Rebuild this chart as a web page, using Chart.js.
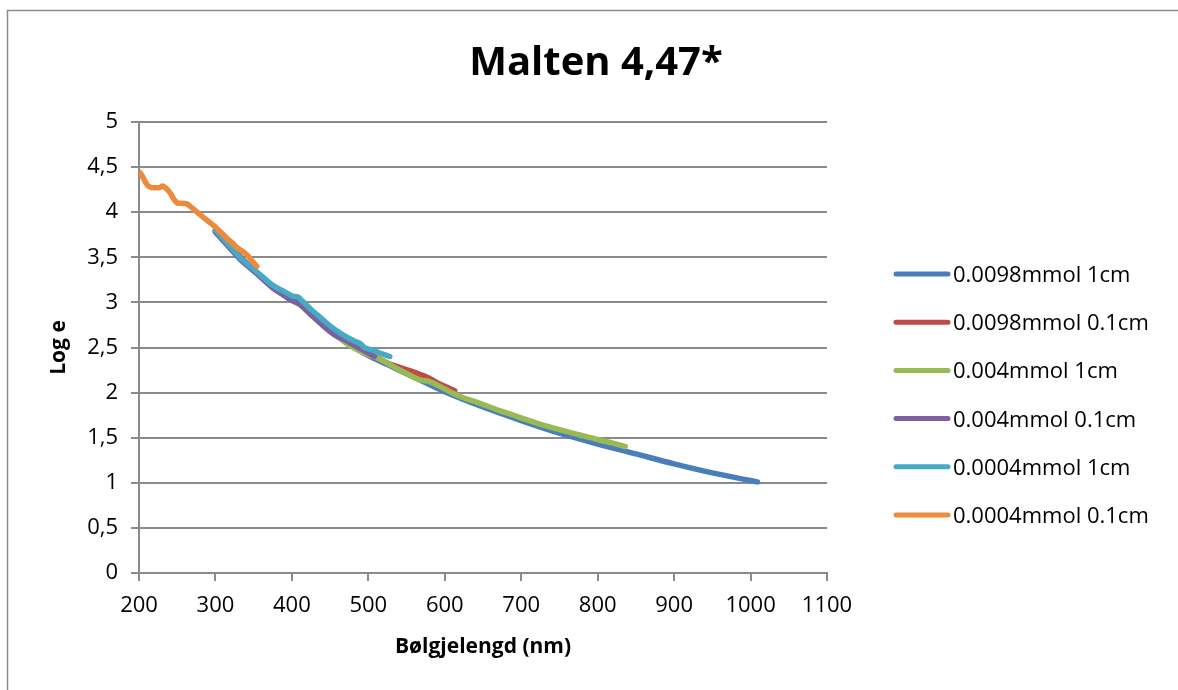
<!DOCTYPE html>
<html>
<head>
<meta charset="utf-8">
<style>
  html, body { margin: 0; padding: 0; background: #fff; }
  #wrap { width: 1178px; height: 690px; }
</style>
<script src="https://cdn.jsdelivr.net/npm/chart.js@4.4.0/dist/chart.umd.min.js"></script>
</head>
<body>
<div id="wrap"><canvas id="c" width="1178" height="690"></canvas></div>
<script>
// ---- chart text ----
const chartTitle = 'Malten 4,47*';
const xAxisTitle = 'Bølgjelengd (nm)';
const yAxisTitle = 'Log e';

// ---- tick labels ----
const xTickValues = [200, 300, 400, 500, 600, 700, 800, 900, 1000, 1100];
const xTickLabels = ['200', '300', '400', '500', '600', '700', '800', '900', '1000', '1100'];
const yTickValues = [0, 0.5, 1, 1.5, 2, 2.5, 3, 3.5, 4, 4.5, 5];
const yTickLabels = ['0', '0,5', '1', '1,5', '2', '2,5', '3', '3,5', '4', '4,5', '5'];

// ---- series names ----
const seriesNames = ['0.0098mmol 1cm', '0.0098mmol 0.1cm', '0.004mmol 1cm', '0.004mmol 0.1cm', '0.0004mmol 1cm', '0.0004mmol 0.1cm'];
const seriesColors = ['#4A7EBB', '#BE4B48', '#98B954', '#7D60A0', '#46AAC5', '#EE8A3C'];

// ---- series values (wavelength nm, log e) ----
const s1x = [300, 325, 350, 375, 400, 410, 425, 450, 475, 500, 525, 550, 575, 600, 650, 700, 750, 800, 850, 900, 950, 1000, 1009];
const s1y = [3.79, 3.56, 3.35, 3.17, 3.02, 2.98, 2.86, 2.69, 2.54, 2.41, 2.31, 2.21, 2.11, 2.01, 1.84, 1.69, 1.55, 1.43, 1.32, 1.21, 1.11, 1.025, 1.01];

const s2x = [300, 325, 350, 375, 400, 410, 425, 450, 475, 500, 515, 530, 541, 555, 568, 577, 590, 600, 613];
const s2y = [3.80, 3.57, 3.36, 3.18, 3.03, 2.99, 2.87, 2.70, 2.56, 2.44, 2.37, 2.31, 2.28, 2.24, 2.20, 2.17, 2.11, 2.07, 2.02];

const s3x = [430, 450, 476, 500, 515, 541, 555, 568, 581, 600, 616, 646, 672, 700, 721, 750, 777, 800, 820, 836];
const s3y = [2.82, 2.69, 2.52, 2.42, 2.37, 2.25, 2.19, 2.14, 2.12, 2.04, 1.97, 1.88, 1.80, 1.72, 1.66, 1.59, 1.53, 1.48, 1.44, 1.40];

const s4x = [300, 316, 332, 354, 375, 390, 400, 410, 424, 441, 456, 472, 493, 508];
const s4y = [3.78, 3.63, 3.48, 3.32, 3.16, 3.08, 3.03, 3.00, 2.88, 2.74, 2.64, 2.57, 2.47, 2.40];

const s5x = [300, 316, 332, 354, 375, 390, 401, 408, 413, 424, 439, 450, 463, 475, 485, 490, 495, 506, 518, 528];
const s5y = [3.80, 3.65, 3.50, 3.34, 3.19, 3.12, 3.07, 3.06, 3.02, 2.93, 2.82, 2.74, 2.66, 2.60, 2.56, 2.54, 2.50, 2.47, 2.43, 2.40];

const s6x = [201, 205, 210, 214, 220, 226, 231, 236, 241, 246, 251, 257, 263, 269, 276, 289, 302, 315, 322, 328, 335, 341, 348, 354];
const s6y = [4.44, 4.39, 4.31, 4.28, 4.27, 4.27, 4.29, 4.26, 4.21, 4.14, 4.10, 4.10, 4.09, 4.05, 4.00, 3.91, 3.82, 3.71, 3.66, 3.61, 3.57, 3.53, 3.46, 3.40];

const seriesX = [s1x, s2x, s3x, s4x, s5x, s6x];
const seriesY = [s1y, s2y, s3y, s4y, s5y, s6y];

const FONT = "'Open Sans', 'Noto Sans', sans-serif";
const GRID = '#8A8A8A';

const datasets = seriesNames.map((name, i) => ({
  label: name,
  data: seriesX[i].map((x, k) => ({ x: x, y: seriesY[i][k] })),
  borderColor: seriesColors[i],
  backgroundColor: seriesColors[i],
  borderWidth: 5.5,
  borderCapStyle: 'round',
  borderJoinStyle: 'round',
  pointRadius: 0,
  pointHoverRadius: 0,
  cubicInterpolationMode: 'monotone',
  fill: false,
  order: seriesNames.length - i
}));

const decor = {
  id: 'decor',
  beforeDraw(chart) {
    const ctx = chart.ctx;
    ctx.save();
    ctx.fillStyle = '#ffffff';
    ctx.fillRect(0, 0, chart.width, chart.height);
    ctx.strokeStyle = '#8C8C8C';
    ctx.lineWidth = 1.5;
    ctx.beginPath();
    ctx.moveTo(7.5, chart.height);
    ctx.lineTo(7.5, 10.5);
    ctx.lineTo(chart.width, 10.5);
    ctx.stroke();
    ctx.restore();
  },
  afterDraw(chart) {
    const ctx = chart.ctx;
    ctx.save();
    // title
    ctx.fillStyle = '#000';
    ctx.font = "bold 40px " + FONT;
    ctx.textAlign = 'center';
    ctx.textBaseline = 'alphabetic';
    ctx.fillText(chartTitle, 596, 75);
    // legend
    ctx.font = "22px " + FONT;
    ctx.textAlign = 'left';
    chart.data.datasets.forEach((ds, i) => {
      const y = 274 + i * 48.2;
      ctx.strokeStyle = ds.borderColor;
      ctx.lineWidth = 5;
      ctx.lineCap = 'round';
      ctx.beginPath();
      ctx.moveTo(896, y);
      ctx.lineTo(948, y);
      ctx.stroke();
      ctx.fillStyle = '#000';
      ctx.fillText(ds.label, 953, y + 8);
    });
    ctx.restore();
  }
};

new Chart(document.getElementById('c'), {
  type: 'line',
  data: { datasets: datasets },
  plugins: [decor],
  options: {
    responsive: false,
    animation: false,
    events: [],
    layout: { padding: { left: 0, right: 351, top: 122, bottom: 0 } },
    plugins: {
      legend: { display: false },
      title: { display: false },
      tooltip: { enabled: false }
    },
    scales: {
      x: {
        type: 'linear',
        min: 200,
        max: 1100,
        afterFit(scale) { scale.height = 117; },
        afterBuildTicks(scale) { scale.ticks = xTickValues.map(v => ({ value: v })); },
        ticks: {
          color: '#000',
          font: { size: 22, family: FONT },
          padding: 12,
          maxRotation: 0,
          autoSkip: false,
          callback: (v) => xTickLabels[xTickValues.indexOf(v)]
        },
        grid: { display: true, drawOnChartArea: false, drawTicks: true, tickLength: 8, color: GRID, lineWidth: 2 },
        border: { display: true, color: GRID, width: 2 },
        title: {
          display: true,
          text: xAxisTitle,
          color: '#000',
          font: { size: 21, weight: 'bold', family: FONT },
          padding: { top: 0, bottom: 30 }
        }
      },
      y: {
        type: 'linear',
        min: 0,
        max: 5,
        afterFit(scale) { scale.width = 139; },
        afterBuildTicks(scale) { scale.ticks = yTickValues.map(v => ({ value: v })); },
        ticks: {
          color: '#000',
          font: { size: 22, family: FONT },
          padding: 13,
          autoSkip: false,
          callback: (v) => yTickLabels[yTickValues.indexOf(v)]
        },
        grid: { display: true, drawOnChartArea: true, drawTicks: true, tickLength: 8, color: GRID, lineWidth: 2 },
        border: { display: true, color: GRID, width: 2 },
        title: {
          display: true,
          text: yAxisTitle,
          color: '#000',
          font: { size: 21, weight: 'bold', family: FONT },
          padding: { top: 46, bottom: 0 }
        }
      }
    }
  }
});
</script>
</body>
</html>
